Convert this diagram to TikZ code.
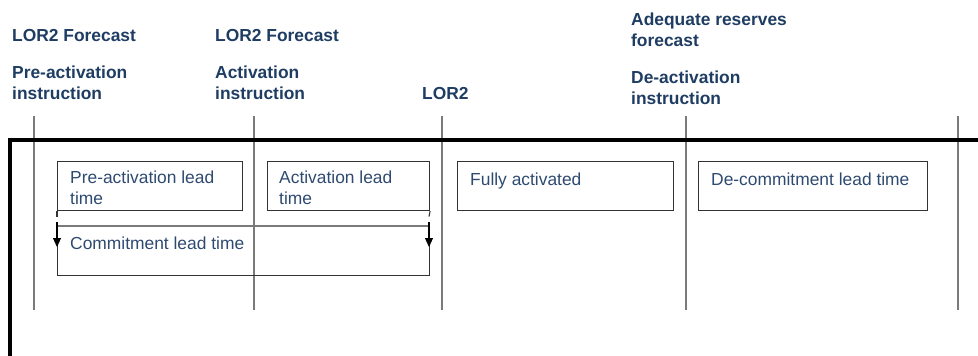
\documentclass[tikz,border=0pt]{standalone}
\usepackage{fontspec}
\setmainfont{Liberation Sans}
\usetikzlibrary{arrows.meta}
\definecolor{headcol}{HTML}{1F3D63}
\definecolor{textcol}{HTML}{2E4A70}
\definecolor{vgray}{HTML}{7A7A7A}
\definecolor{boxcol}{HTML}{333333}
\begin{document}
\begin{tikzpicture}[x=1pt,y=-1pt,
  head/.style={anchor=base west, inner sep=0pt, align=left, text=headcol,
    font=\fontsize{17.4}{20.6}\selectfont\bfseries},
  lbl/.style={anchor=base west, inner sep=0pt, align=left, text=textcol,
    font=\fontsize{17.4}{20.5}\selectfont},
  phase/.style={draw=boxcol, line width=1.1pt, anchor=north west, inner sep=0pt},
  vline/.style={draw=vgray, line width=1.4pt},
  frame/.style={draw=black, line width=4pt},
  dimarrow/.style={draw=black, line width=1.1pt, -{Triangle[length=9pt,width=8pt]}},
  dimline/.style={draw=vgray, line width=1.1pt}]
\useasboundingbox (0,0) rectangle (978,356);
% headings (anchor = baseline of last line)
\node[head] (h1a) at (12,41) {LOR2 Forecast};
\node[head] (h1b) at (12,99) {Pre-activation\\instruction};
\node[head] (h2a) at (215,41) {LOR2 Forecast};
\node[head] (h2b) at (215,99) {Activation\\instruction};
\node[head] (h3) at (422,99) {LOR2};
\node[head] (h4a) at (631,46) {Adequate reserves\\forecast};
\node[head] (h4b) at (631,104) {De-activation\\instruction};
% vertical time markers
\foreach \n/\x in {t1/34,t2/254,t3/442,t4/686,t5/958}{
  \coordinate (\n top) at (\x,116);
  \coordinate (\n bot) at (\x,310);
  \draw[vline] (\n top) -- (\n bot);
}
% thick frame
\coordinate (fl) at (10,356);
\coordinate (fc) at (10,139.5);
\coordinate (fr) at (978,139.5);
\draw[frame] (fl) -- (fc) -- (fr);
% phase boxes
\node[phase, minimum width=185pt, minimum height=49pt] (pre) at (57,161) {};
\node[phase, minimum width=162pt, minimum height=49pt] (act) at (267,161) {};
\node[phase, minimum width=216pt, minimum height=49pt] (full) at (457,161) {};
\node[phase, minimum width=229pt, minimum height=49pt] (dec) at (698,161) {};
\node[phase, minimum width=372pt, minimum height=49pt] (com) at (57,226) {};
\node[lbl] (preT) at (70,204) {Pre-activation lead\\time};
\node[lbl] (actT) at (279,204) {Activation lead\\time};
\node[lbl] (fullT) at (470,185) {Fully activated};
\node[lbl] (decT) at (711,185) {De-commitment lead time};
\node[lbl] (comT) at (70,249) {Commitment lead time};
% commitment dimension arrows
\coordinate (a1s) at (57,222);
\coordinate (a1e) at (57,247);
\coordinate (a2s) at (429,222);
\coordinate (a2e) at (429,247);
\coordinate (k1) at (57,216.5);
\coordinate (k2) at (429,216.5);
\draw[boxcol, line width=1.1pt] (pre.south west) -- (k1);
\draw[boxcol, line width=1.1pt] (act.south east) -- (k2);
\draw[dimline] (com.north west) -- (com.north east);
\draw[dimarrow] (a1s) -- (a1e);
\draw[dimarrow] (a2s) -- (a2e);
\end{tikzpicture}
\end{document}
